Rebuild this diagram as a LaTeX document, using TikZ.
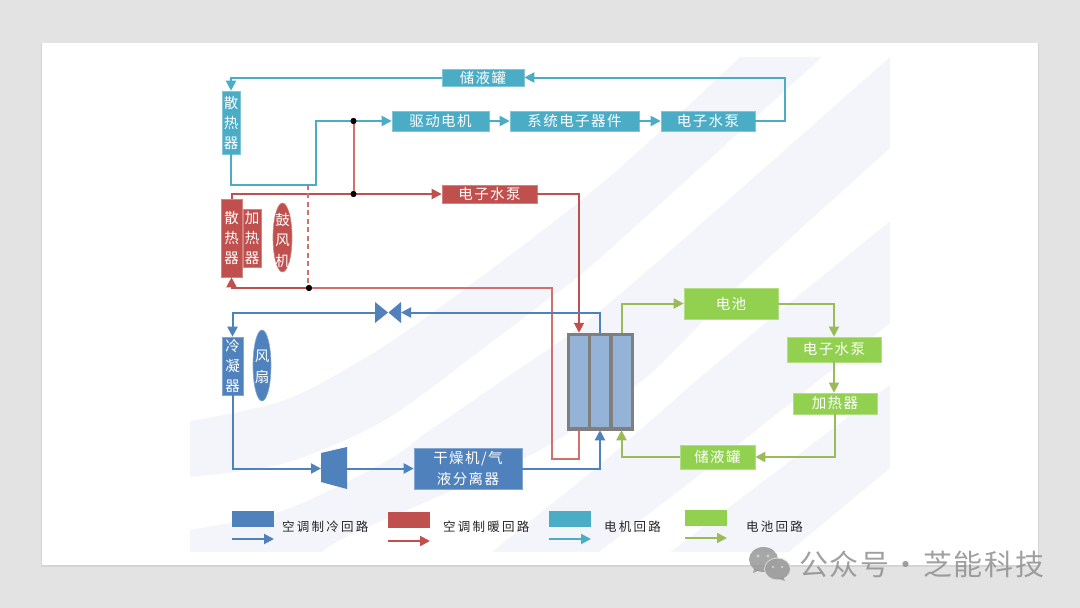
\documentclass[tikz,border=0pt]{standalone}
\usepackage{fontspec}
\usetikzlibrary{arrows.meta,calc,shapes.geometric}
\newfontfamily\cjk[LetterSpace=10]{Noto Sans CJK SC}
\newfontfamily\cjklg[LetterSpace=18]{Noto Sans CJK SC}
\newfontfamily\cjkwm[LetterSpace=6]{Noto Sans CJK SC}
\definecolor{cBlue}{HTML}{4F81BD}
\definecolor{cRed}{HTML}{C0504D}
\definecolor{cTeal}{HTML}{4BACC6}
\definecolor{cGreen}{HTML}{92D050}
\definecolor{cLime}{HTML}{9BBB59}
\definecolor{cPale}{HTML}{F4F5FA}
\definecolor{cBack}{HTML}{E3E3E3}
\definecolor{cCell}{HTML}{95B3D7}
\definecolor{cFrame}{HTML}{7F7F7F}
\definecolor{cRedL}{HTML}{D2706D}
\tikzset{
  boxbase/.style={draw=#1!70!white,fill=#1,line width=.6pt,inner sep=0pt,text=white,align=center,
     font=\cjk\fontsize{14.5}{20}\selectfont},
  bx/.style n args={3}{boxbase=#1,minimum width=#2pt,minimum height=#3pt},
  oval/.style n args={3}{boxbase=#1,ellipse,minimum width=#2pt,minimum height=#3pt},
  ovaltxt/.style={inner sep=0pt,text=white,align=center,font=\cjk\fontsize{14.5}{20.5}\selectfont},
  lgbox/.style n args={1}{fill=#1,inner sep=0pt,minimum width=42pt,minimum height=16pt},
  lgtxt/.style={inner sep=0pt,text=black!85,font=\cjklg\fontsize{12.5}{15}\selectfont},
  wire/.style={line width=2pt,color=#1,line join=miter},
  flow/.style={wire=#1,-{Triangle[length=10pt,width=10pt]}},
  dotn/.style={circle,fill=black,inner sep=0pt,minimum size=6pt},
}
\begin{document}
\begin{tikzpicture}[x=1pt,y=-1pt]
\useasboundingbox (0,0) rectangle (1080,608);
\fill[cBack] (0,0) rectangle (1080,608);
\fill[black!17] (40.5,43) rectangle (1039,566.5);
\fill[white] (42,43) rectangle (1038,565);
% backdrop bands
\begin{scope}
\clip (190,57) rectangle (890,551);
\fill[cPale] plot[smooth,tension=.5] coordinates {(150,424) (190,421) (285,400) (370,355) (450,300) (600,185) (740,57) (760,30)}
  -- (850,30) -- (822,57) -- plot[smooth,tension=.5] coordinates {(822,57) (600,258) (547,300) (485,347) (385,420) (285,463) (190,477) (150,480)} -- cycle;
\fill[cPale] plot[smooth,tension=.5] coordinates {(150,535) (190,530) (285,510) (385,462) (430,430) (503,380) (613,300) (890,57) (920,30)}
  -- (920,120) -- (890,148) -- plot[smooth,tension=.5] coordinates {(890,148) (737,287) (643,380) (540,450) (430,500) (340,540) (300,570)} -- (150,570) -- cycle;
\fill[cPale] (920,197) -- (793,300) -- (697,380) -- (600,465) -- (497,548) -- (470,570) -- (575,570) -- (600,551) -- (680,490) -- (763,425) -- (890,323) -- (920,300) -- cycle;
\fill[cPale] (673,550) -- (890,385) -- (920,362) -- (920,443) -- (890,468) -- (790,551) -- (770,570) -- (650,570) -- cycle;
\end{scope}

% motor loop nodes
\node[bx={cTeal}{82}{17}] (tTank) at (483,77.5) {储液罐};
\node[bx={cTeal}{18}{63}] (tRad) at (231,122.5) {散\\热\\器};
\node[bx={cTeal}{97}{20}] (tMotor) at (440.5,121) {驱动电机};
\node[bx={cTeal}{129}{20}] (tSys) at (574.5,121) {系统电子器件};
\node[bx={cTeal}{94}{20}] (tPump) at (708,121) {电子水泵};
% heating loop nodes
\node[bx={cRed}{21}{78}] (rRad) at (231.5,238) {散\\热\\器};
\node[bx={cRed}{18}{58}] (rHeat) at (252,238) {加\\热\\器};
\node[oval={cRed}{19}{69}] (rFan) at (282.5,237.5) {};
\node[ovaltxt] (rFanT) at (282.5,240) {鼓\\风\\机};
\node[bx={cRed}{95}{18}] (rPump) at (489.5,194) {电子水泵};
% cooling loop nodes
\node[bx={cBlue}{21}{58}] (bCond) at (232.5,366) {冷\\凝\\器};
\node[oval={cBlue}{18}{71}] (bFan) at (262,365.5) {};
\node[ovaltxt] (bFanT) at (262,367) {风\\扇};
\node[bx={cBlue}{108}{41},font=\cjk\fontsize{14.5}{21}\selectfont] (bDry) at (468,468.5) {干燥机/气\\液分离器};
% battery loop nodes
\node[bx={cGreen}{94}{31}] (gBat) at (731,303.5) {电池};
\node[bx={cGreen}{94}{25}] (gPump) at (834,349.5) {电子水泵};
\node[bx={cGreen}{84}{21}] (gHeat) at (835,403.5) {加热器};
\node[bx={cGreen}{75}{24}] (gTank) at (717.5,457) {储液罐};
% heat exchanger
\node[fill=cFrame,draw=cFrame,line width=.5pt,inner sep=0pt,minimum width=66pt,minimum height=97pt] (hx) at (600,381.5) {};
\node[fill=cCell,inner sep=0pt,minimum width=17.5pt,minimum height=91pt] (c1) at (579,381.5) {};
\node[fill=cCell,inner sep=0pt,minimum width=18pt,minimum height=91pt] (c2) at (600,381.5) {};
\node[fill=cCell,inner sep=0pt,minimum width=18pt,minimum height=91pt] (c3) at (621.5,381.5) {};
% valve and compressor
\coordinate (vL) at (375,312.5);
\coordinate (vR) at (401,312.5);
\fill[cBlue] (375,302) -- (388,312.5) -- (375,323) -- cycle;
\fill[cBlue] (401,302) -- (388.5,312.5) -- (401,323) -- cycle;
\coordinate (cpL) at (321,468.5);
\coordinate (cpR) at (347,468.5);
\fill[cBlue] (321,453) -- (347,447) -- (347,489) -- (321,482) -- cycle;

% junction dots
\node[dotn] (d1) at (353.5,121) {};
\node[dotn] (d2) at (353.5,194) {};
\node[dotn] (d3) at (309,288) {};
\coordinate (dTop) at (308,184.5);

% motor loop
\draw[flow=cTeal] (tPump.east) -- (785,121) -- (785,77.5) -- (tTank.east);
\draw[flow=cTeal] (tTank.west) -- (231,77.5) -- (tRad.north);
\draw[wire=cTeal] (tRad.south) -- (231,184.5) -- (316,184.5) -- (316,121) -- (d1.center);
\draw[flow=cTeal] (d1.center) -- (tMotor.west);
\draw[flow=cTeal] (tMotor.east) -- (tSys.west);
\draw[flow=cTeal] (tSys.east) -- (tPump.west);
% heating loop
\draw[wire=cRedL] (d1) -- (d2);
\draw[flow=cRed] (rRad.north) -- (231.5,194) -- (rPump.west);
\draw[flow=cRed] (rPump.east) -- (579,194) -- (hx.north -| c1);
\draw[wire=cRedL] (hx.south -| c1) -- (579,459) -- (552,459) -- (552,288) -- (d3.center);
\draw[flow=cRed] (d3.center) -- (231.5,288) -- (rRad.south);
\draw[wire=cRedL,line width=1.3pt,dash pattern=on 5pt off 3.5pt] (dTop) -- (dTop |- d3);
\node[dotn] at (d3) {};
\node[dotn] at (d1) {};
\node[dotn] at (d2) {};
% cooling loop
\draw[flow=cBlue] (hx.north -| c2) -- (600,312.5) -- (vR);
\draw[flow=cBlue] (vL) -- (232.5,312.5) -- (bCond.north);
\draw[flow=cBlue] (bCond.south) -- (232.5,468.5) -- (cpL);
\draw[flow=cBlue] (cpR) -- (bDry.west);
\draw[flow=cBlue] (bDry.east) -- (600,468.5) -- (hx.south -| c2);
% battery loop
\draw[flow=cLime] (hx.north -| c3) -- (621.5,303.5) -- (gBat.west);
\draw[flow=cLime] (gBat.east) -- (834,303.5) -- (gPump.north);
\draw[flow=cLime] (gPump.south) -- (gHeat.north -| gPump);
\draw[flow=cLime] (gHeat.south) -- (835,457) -- (gTank.east);
\draw[flow=cLime] (gTank.west) -- (621.5,457) -- (hx.south -| c3);

% legend
\node[lgbox={cBlue}] (lg1) at (253,519) {};
\node[lgbox={cRed}] (lg2) at (408.5,520) {};
\node[lgbox={cTeal}] (lg3) at (569.5,519) {};
\node[lgbox={cGreen}] (lg4) at (706,518) {};
\coordinate (a1s) at (232,539); \coordinate (a1e) at (274,539);
\coordinate (a2s) at (388,541); \coordinate (a2e) at (430,541);
\coordinate (a3s) at (549,539); \coordinate (a3e) at (591,539);
\coordinate (a4s) at (685,538); \coordinate (a4e) at (727,538);
\draw[flow=cBlue] (a1s) -- (a1e);
\draw[flow=cRed] (a2s) -- (a2e);
\draw[flow=cTeal] (a3s) -- (a3e);
\draw[flow=cLime] (a4s) -- (a4e);
\node[lgtxt,anchor=west] (t1) at (282,527) {空调制冷回路};
\node[lgtxt,anchor=west] (t2) at (443,527) {空调制暖回路};
\node[lgtxt,anchor=west] (t3) at (604,527) {电机回路};
\node[lgtxt,anchor=west] (t4) at (746,527) {电池回路};

% watermark
\begin{scope}[opacity=.82]
\fill[black!42] (763.5,559.5) ellipse [x radius=14.5pt,y radius=12.5pt];
\fill[black!42] (754,569) -- (753,573) -- (760,570) -- cycle;
\fill[white!88!black] (777.5,569) ellipse [x radius=13.5pt,y radius=11.5pt];
\fill[black!42] (777.5,569) ellipse [x radius=12.5pt,y radius=10.5pt];
\fill[black!42] (783,577) -- (785,581) -- (778,578.5) -- cycle;
\fill[white!85!black] (758,556) circle (1.7pt) (768,556) circle (1.7pt) (773,567) circle (1.3pt) (782,567) circle (1.3pt);
\node[inner sep=0pt,anchor=west,text=black!45,font=\cjkwm\fontsize{29}{30}\selectfont] (wm) at (799,564) {公众号\hspace{-6pt} · \hspace{-6pt}芝能科技};
\end{scope}
\end{tikzpicture}
\end{document}
